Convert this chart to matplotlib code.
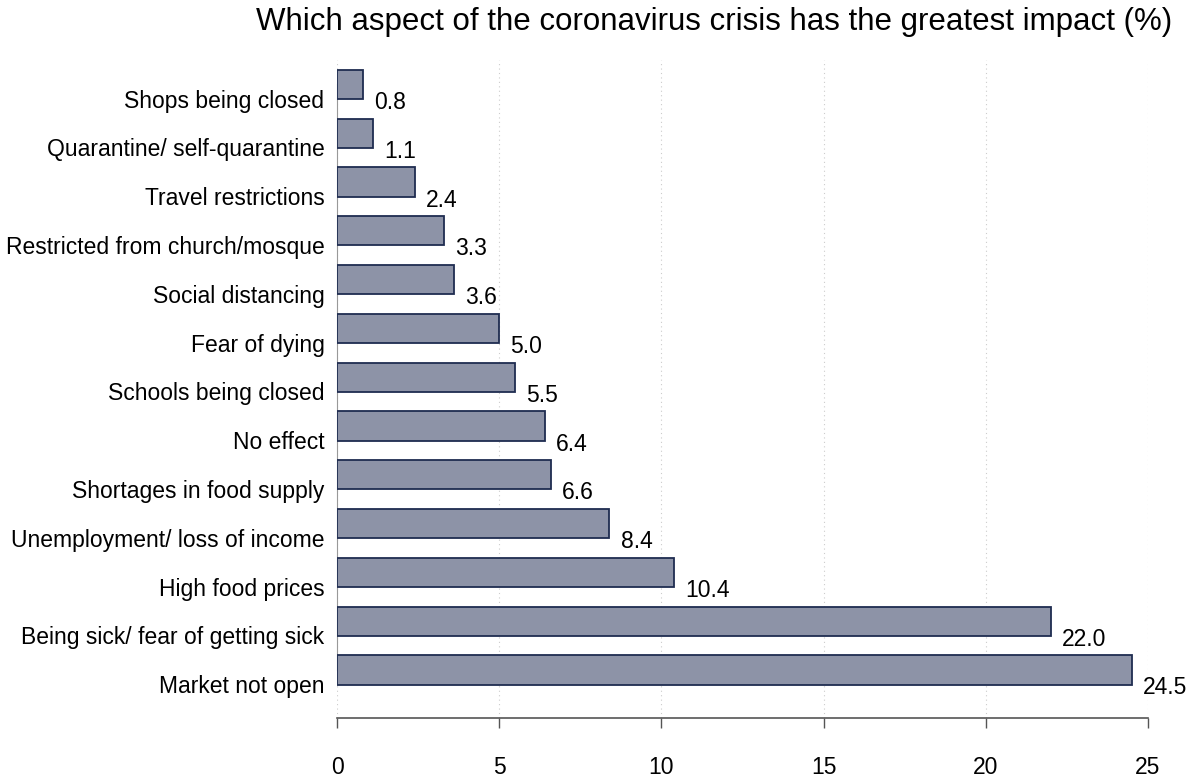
import numpy as np
import matplotlib.pyplot as plt

plt.rcParams['font.family'] = ['Liberation Sans', 'DejaVu Sans']

# data (top to bottom as shown)
categories = ["Shops being closed", "Quarantine/ self-quarantine", "Travel restrictions",
              "Restricted from church/mosque", "Social distancing", "Fear of dying",
              "Schools being closed", "No effect", "Shortages in food supply",
              "Unemployment/ loss of income", "High food prices",
              "Being sick/ fear of getting sick", "Market not open"]
values = [0.8, 1.1, 2.4, 3.3, 3.6, 5.0, 5.5, 6.4, 6.6, 8.4, 10.4, 22.0, 24.5]
xticks = [0, 5, 10, 15, 20, 25]

fig = plt.figure(figsize=(11.88, 7.79), dpi=100)
ax = fig.add_axes([337 / 1188, 61 / 779, (1148 - 337) / 1188, (718 - 60) / 779])

pos = np.arange(len(categories))[::-1]
ax.barh(pos, values, height=0.6, color='#8d93a7', edgecolor='#1f2c50', linewidth=1.3, zorder=3)

for p, v in zip(pos, values):
    ax.annotate(f"{v:.1f}", (v, p), xytext=(8, -13), textcoords='offset points',
                ha='left', va='center', fontsize=16.5)

# category labels sit a little below each bar
for p, c in zip(pos, categories):
    ax.annotate(c, (0, p), xytext=(-9, -12), textcoords='offset points',
                ha='right', va='center', fontsize=16.5, annotation_clip=False)

ax.set_xlim(0, 25)
ax.set_ylim(-0.985, 12.5)
ax.set_yticks([])

ax.set_xticks(xticks)
ax.tick_params(axis='x', length=7, width=1, color='#555555', pad=20, labelsize=16.5)
for x in xticks:
    ax.axvline(x, color='#cccccc', linestyle=(0, (1, 3)), linewidth=0.8, zorder=0)

for s in ['top', 'right']:
    ax.spines[s].set_visible(False)
ax.spines['left'].set_bounds(0, 12)
ax.spines['left'].set_color('#999999')
ax.spines['bottom'].set_color('#555555')
ax.spines['bottom'].set_linewidth(1.2)

fig.text(714 / 1188, 1 - 22 / 779, "Which aspect of the coronavirus crisis has the greatest impact (%)",
         ha='center', va='center', fontsize=22.5)

fig.savefig('out.png', dpi=100)
